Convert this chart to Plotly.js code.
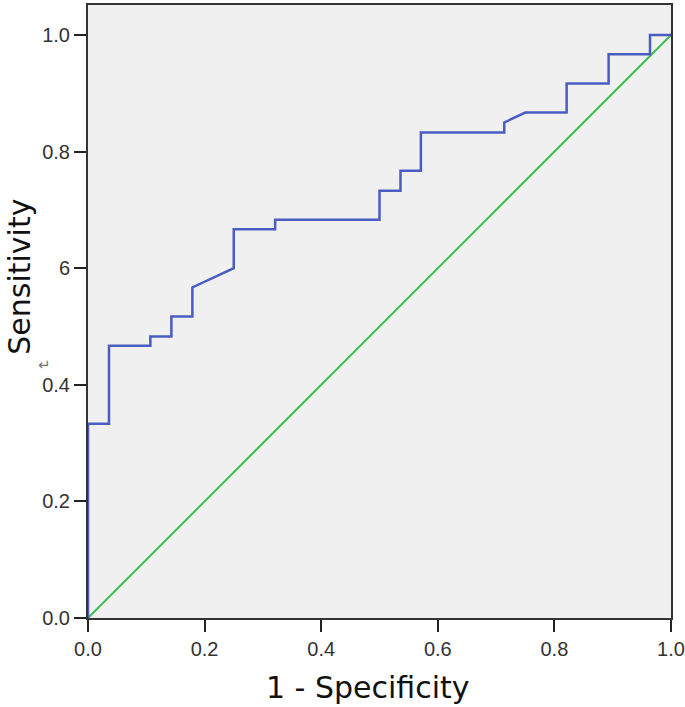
<!DOCTYPE html>
<html>
<head>
<meta charset="utf-8">
<script src="https://cdn.plot.ly/plotly-3.0.1.min.js"></script>
<style>
  html, body { margin: 0; padding: 0; background: #fff; }
  #chart { width: 685px; height: 707px; }
</style>
</head>
<body>
<div id="chart"></div>
<script>
// ROC curve (1 - specificity, sensitivity)
const fpr = [0, 0, 0.036, 0.036, 0.107, 0.107, 0.143, 0.143, 0.179, 0.179, 0.25, 0.25,
  0.321, 0.321, 0.5, 0.5, 0.536, 0.536, 0.571, 0.571, 0.714, 0.714, 0.75, 0.821,
  0.821, 0.893, 0.893, 0.964, 0.964, 1];
const tpr = [0, 0.333, 0.333, 0.467, 0.467, 0.483, 0.483, 0.517, 0.517, 0.567, 0.6, 0.667,
  0.667, 0.683, 0.683, 0.733, 0.733, 0.767, 0.767, 0.833, 0.833, 0.85, 0.867, 0.867,
  0.917, 0.917, 0.967, 0.967, 1, 1];
const refX = [0, 1];
const refY = [0, 1];

const tickVals = [0, 0.2, 0.4, 0.6, 0.8, 1.0];
const xTickText = ['0.0', '0.2', '0.4', '0.6', '0.8', '1.0'];
const yTickText = ['0.0', '0.2', '0.4', '6', '0.8', '1.0'];

const tickFont = { family: 'Liberation Sans, Arial, sans-serif', size: 20, color: '#333' };
const titleFont = { family: 'DejaVu Sans, sans-serif', size: 30, color: '#111' };

const traces = [
  {
    x: refX, y: refY, mode: 'lines',
    line: { color: '#3fbf4c', width: 2 },
    hoverinfo: 'skip'
  },
  {
    x: fpr, y: tpr, mode: 'lines',
    line: { color: '#4a5cc2', width: 2.5 }
  }
];

const layout = {
  width: 685,
  height: 707,
  margin: { l: 88, r: 14, t: 5, b: 89 },
  paper_bgcolor: '#ffffff',
  plot_bgcolor: '#f0f0f0',
  showlegend: false,
  xaxis: {
    range: [0, 1],
    tickvals: tickVals,
    ticktext: xTickText,
    ticks: 'outside', ticklen: 12, tickwidth: 2, tickcolor: '#222',
    showgrid: false, zeroline: false,
    showline: true, linecolor: '#333', linewidth: 2, mirror: true,
    tickfont: tickFont
  },
  yaxis: {
    range: [0, 1.0515],
    tickvals: tickVals,
    ticktext: yTickText,
    ticks: 'outside', ticklen: 12, tickwidth: 2, tickcolor: '#222',
    showgrid: false, zeroline: false,
    showline: true, linecolor: '#333', linewidth: 2, mirror: true,
    tickfont: tickFont
  },
  annotations: [
    {
      text: '1 - Specificity', xref: 'paper', yref: 'paper',
      x: 0.48, y: -0.114, xanchor: 'center', yanchor: 'middle', showarrow: false,
      font: titleFont
    },
    {
      text: 'Sensitivity', xref: 'paper', yref: 'paper',
      x: -0.118, y: 0.557, xanchor: 'center', yanchor: 'middle',
      textangle: -90, showarrow: false,
      font: titleFont
    },
    {
      text: '↵', xref: 'paper', yref: 'paper',
      x: -0.074, y: 0.413, xanchor: 'center', yanchor: 'middle', showarrow: false,
      font: { family: 'DejaVu Sans, sans-serif', size: 15, color: '#777' }
    }
  ]
};

Plotly.newPlot('chart', traces, layout, { displayModeBar: false });
</script>
</body>
</html>
